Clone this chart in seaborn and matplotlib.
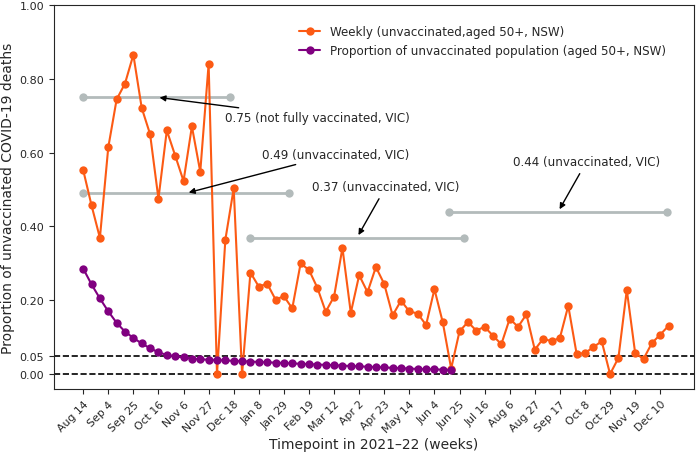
import seaborn as sns
import matplotlib.pyplot as plt
import pandas as pd
import numpy as np

# weekly proportion of unvaccinated COVID-19 deaths, aged 50+, NSW (Aug 14 2021 -> Dec 17 2022)
weekly = [0.553, 0.457, 0.369, 0.614, 0.744, 0.787, 0.865, 0.721, 0.650, 0.475,
          0.660, 0.592, 0.523, 0.671, 0.548, 0.840, 0.0, 0.364, 0.503, 0.0,
          0.275, 0.237, 0.245, 0.202, 0.211, 0.178, 0.300, 0.282, 0.234, 0.169,
          0.210, 0.342, 0.166, 0.268, 0.222, 0.290, 0.244, 0.159, 0.199, 0.170,
          0.164, 0.133, 0.230, 0.140, 0.015, 0.116, 0.141, 0.118, 0.128, 0.104,
          0.081, 0.150, 0.128, 0.162, 0.066, 0.096, 0.089, 0.098, 0.185, 0.055,
          0.057, 0.073, 0.089, 0.0, 0.044, 0.228, 0.057, 0.041, 0.084, 0.107, 0.131]

# proportion of unvaccinated population (aged 50+, NSW)
unvax_pop = [0.286, 0.243, 0.205, 0.170, 0.139, 0.115, 0.098, 0.083, 0.070, 0.059,
             0.052, 0.048, 0.045, 0.042, 0.040, 0.039, 0.038, 0.037, 0.036, 0.035,
             0.034, 0.033, 0.032, 0.031, 0.030, 0.029, 0.028, 0.027, 0.026, 0.025,
             0.024, 0.023, 0.022, 0.021, 0.020, 0.019, 0.018, 0.017, 0.016, 0.015,
             0.014, 0.013, 0.013, 0.012, 0.011]

tick_labels = ['Aug 14', 'Sep 4', 'Sep 25', 'Oct 16', 'Nov 6', 'Nov 27', 'Dec 18',
               'Jan 8', 'Jan 29', 'Feb 19', 'Mar 12', 'Apr 2', 'Apr 23', 'May 14',
               'Jun 4', 'Jun 25', 'Jul 16', 'Aug 6', 'Aug 27', 'Sep 17', 'Oct 8',
               'Oct 29', 'Nov 19', 'Dec 10']

# VIC reference levels (week index ranges)
vic_levels = [0.75, 0.49, 0.37, 0.44]
vic_start = [0, 0, 20, 43.8]
vic_end = [17.6, 24.6, 45.5, 69.8]
vic_text = ['0.75 (not fully vaccinated, VIC)', '0.49 (unvaccinated, VIC)',
            '0.37 (unvaccinated, VIC)', '0.44 (unvaccinated, VIC)']
vic_text_pos = [(28.0, 0.694), (30.2, 0.596), (36.2, 0.508), (60.2, 0.576)]

orange = '#fc5a14'
purple = '#800080'
grey = '#b3bbbb'

df_weekly = pd.DataFrame({'week': np.arange(len(weekly)), 'value': weekly})
df_pop = pd.DataFrame({'week': np.arange(len(unvax_pop)), 'value': unvax_pop})

sns.set_style('ticks')
fig = plt.figure(figsize=(7, 4.56), dpi=100)
ax = fig.add_axes([0.077, 0.145, 0.914, 0.842])

for lev, s, e in zip(vic_levels, vic_start, vic_end):
    seg = pd.DataFrame({'week': [s, e], 'value': [lev, lev]})
    sns.lineplot(data=seg, x='week', y='value', color=grey, marker='o',
                 markersize=6, markeredgewidth=0, linewidth=2, ax=ax, zorder=1)

sns.lineplot(data=df_weekly, x='week', y='value', color=orange, marker='o',
             markersize=6, markeredgewidth=0, linewidth=1.5, ax=ax, zorder=3,
             label='Weekly (unvaccinated,aged 50+, NSW)')
sns.lineplot(data=df_pop, x='week', y='value', color=purple, marker='o',
             markersize=6, markeredgewidth=0, linewidth=1.5, ax=ax, zorder=3,
             label='Proportion of unvaccinated population (aged 50+, NSW)')

ax.axhline(0.05, color='black', linestyle='--', linewidth=1.2, zorder=2)
ax.axhline(0.0, color='black', linestyle='--', linewidth=1.2, zorder=2)

for lev, s, e, txt, pos in zip(vic_levels, vic_start, vic_end, vic_text, vic_text_pos):
    ax.annotate(txt, xy=((s + e) / 2, lev), xytext=pos, ha='center', va='center',
                fontsize=8.6, arrowprops=dict(arrowstyle='-|>', color='black', lw=1))

ax.set_xlim(-3.5, 73)
ax.set_ylim(-0.04, 1.0)
ax.set_xticks(np.arange(0, 3 * len(tick_labels), 3))
ax.set_xticklabels(tick_labels, rotation=45, ha='right', rotation_mode='anchor', fontsize=7.8)
ax.set_yticks([0, 0.05, 0.2, 0.4, 0.6, 0.8, 1.0])
ax.set_yticklabels(['0.00', '0.05', '0.20', '0.40', '0.60', '0.80', '1.00'], fontsize=8)
ax.set_xlabel('Timepoint in 2021–22 (weeks)', fontsize=10, labelpad=2)
ax.set_ylabel('Proportion of unvaccinated COVID-19 deaths', fontsize=10, labelpad=3)

leg = ax.legend(loc='upper left', bbox_to_anchor=(0.366, 0.975), frameon=False,
                fontsize=8.6, handlelength=1.8)

fig.savefig('out.png', dpi=100)
